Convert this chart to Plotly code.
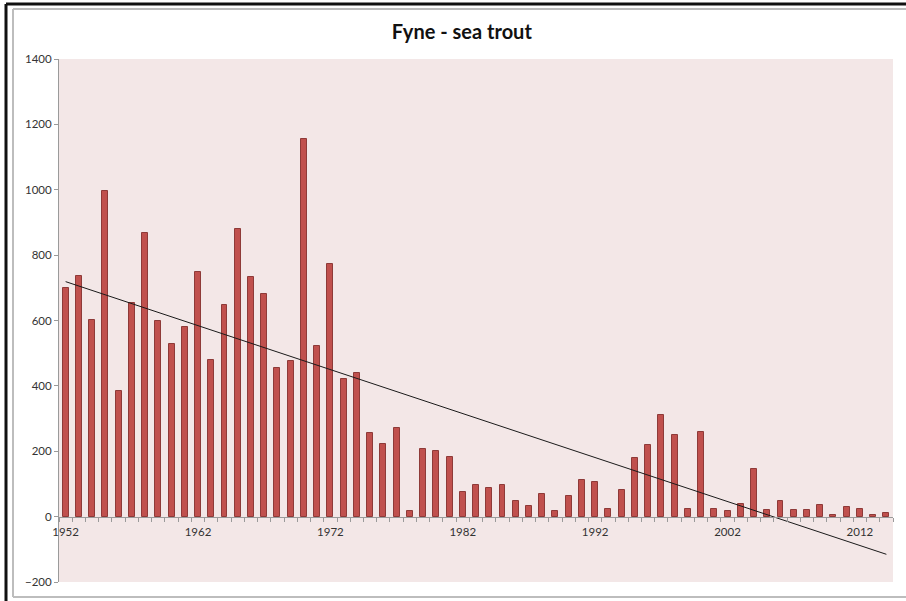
import numpy as np
import plotly.graph_objects as go

# Annual sea trout catch, River Fyne
years = list(range(1952, 2015))
catch = [
    700, 736, 603, 996, 385, 655, 868, 598, 527, 581,
    747, 479, 647, 880, 733, 681, 455, 476, 1154, 521,
    772, 421, 440, 256, 222, 272, 18, 206, 201, 183,
    76, 96, 88, 96, 49, 33, 68, 18, 63, 113,
    105, 24, 80, 179, 220, 312, 249, 24, 259, 24,
    16, 40, 147, 21, 47, 21, 21, 36, 6, 28,
    24, 6, 11,
]
label_years = [1952, 1962, 1972, 1982, 1992, 2002, 2012]
y_ticks = list(range(-200, 1401, 200))

# Least-squares linear trend across the series
slope, intercept = np.polyfit(years, catch, 1)
trend = [slope * yr + intercept for yr in years]

BAR_FILL = "#C0504D"
BAR_EDGE = "#8E3A38"
AXIS_GREY = "#9A9A9A"
TEXT = "#333333"
FONT = "Lato, 'Open Sans', sans-serif"

fig = go.Figure()
fig.add_trace(go.Bar(
    x=years, y=catch, width=0.45,
    marker=dict(color=BAR_FILL, line=dict(color=BAR_EDGE, width=1)),
    showlegend=False, hoverinfo="x+y",
))
fig.add_trace(go.Scatter(
    x=[years[0], years[-1]], y=[trend[0], trend[-1]], mode="lines",
    line=dict(color="#1a1a1a", width=1), showlegend=False,
))

fig.update_layout(
    width=906, height=601,
    margin=dict(l=59, r=13, t=59, b=19),
    paper_bgcolor="white",
    plot_bgcolor="#F3E7E7",
    font=dict(family=FONT, size=11, color=TEXT),
    bargap=0,
    title=dict(
        text="<b>Fyne - sea trout</b>",
        font=dict(family=FONT, size=20, color="#111111"),
        x=0.483, xref="paper", xanchor="center",
        y=1 - 32 / 601, yref="container", yanchor="middle",
    ),
    xaxis=dict(
        range=[1951.5, 2014.5],
        anchor="free", position=200 / 1600,
        showline=True, linecolor=AXIS_GREY, linewidth=1,
        showgrid=False, zeroline=False,
        tickmode="array", tickvals=label_years,
        ticktext=[str(v) for v in label_years],
        ticks="outside", ticklen=5, tickcolor="rgba(0,0,0,0)",
        tickfont=dict(size=11.5, color=TEXT),
        minor=dict(
            tickmode="array",
            tickvals=[yr - 0.5 for yr in years] + [years[-1] + 0.5],
            ticks="outside", ticklen=4, tickcolor=AXIS_GREY, tickwidth=1,
            showgrid=False,
        ),
    ),
    yaxis=dict(
        range=[-200, 1400],
        tickmode="array", tickvals=y_ticks,
        showline=True, linecolor=AXIS_GREY, linewidth=1,
        showgrid=False, zeroline=False,
        ticks="outside", ticklen=4, tickcolor=AXIS_GREY,
        tickfont=dict(size=11.5, color=TEXT),
    ),
)

# Chart frame: dark outer border (top, left) and grey chart-area border
def px_to_paper_x(px):
    return (px - 59) / 834

def px_to_paper_y(py):
    return (582 - py) / 523

frame_lines = [
    # (x0, y0, x1, y1, colour, width) in pixels
    (13, 9, 906, 9, "#BDBDBD", 2),
    (13, 9, 13, 597, "#BDBDBD", 2),
    (13, 597, 906, 597, "#BDBDBD", 2),
    (6, 4, 906, 4, "#111111", 3),
    (6, 4, 6, 601, "#111111", 3),
]
for x0, y0, x1, y1, col, w in frame_lines:
    fig.add_shape(type="line", xref="paper", yref="paper", layer="above",
                  x0=px_to_paper_x(x0), x1=px_to_paper_x(x1),
                  y0=px_to_paper_y(y0), y1=px_to_paper_y(y1),
                  line=dict(color=col, width=w))

fig.write_html("out.html")
